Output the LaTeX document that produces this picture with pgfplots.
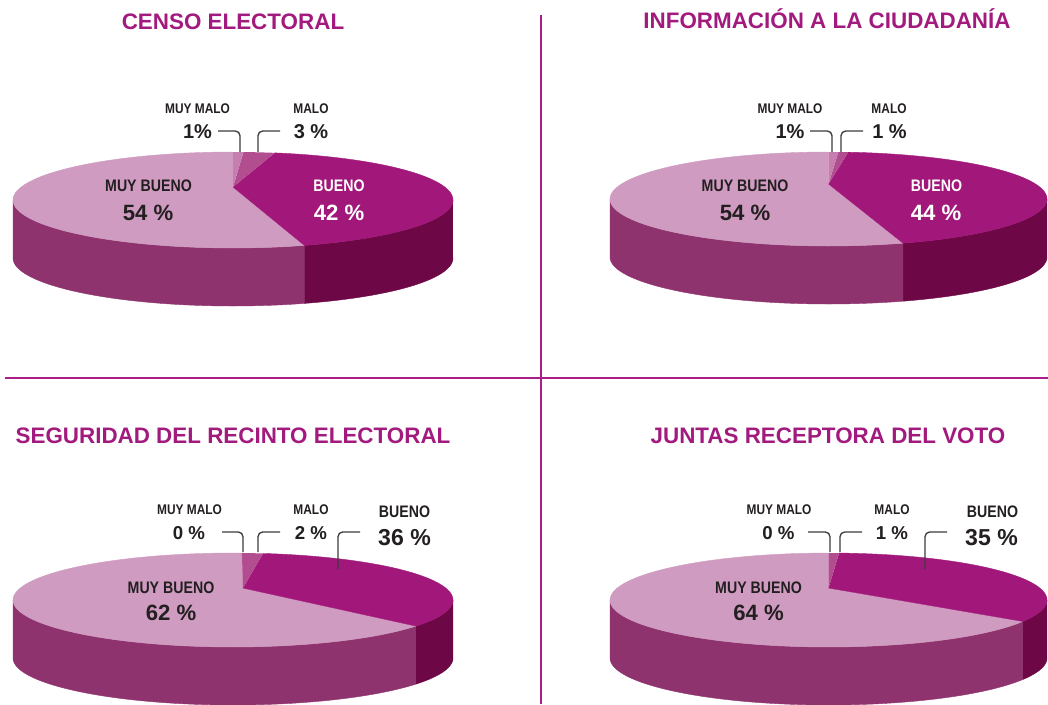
\documentclass[border=0pt]{standalone}
\usepackage{pgfplots}
\usepackage{pgfplotstable}
\pgfplotsset{compat=1.18}
\usepackage{fontspec}
\setmainfont{Liberation Sans}
\newfontfamily\condf[FakeStretch=0.85]{Liberation Sans}

\definecolor{mbtop}{RGB}{207,155,192}
\definecolor{btop}{RGB}{161,24,122}
\definecolor{mtop}{RGB}{178,77,144}
\definecolor{mmtop}{RGB}{198,125,175}
\definecolor{mbside}{RGB}{143,51,110}
\definecolor{bside}{RGB}{110,7,69}
\definecolor{ttl}{RGB}{162,26,125}
\definecolor{divc}{RGB}{172,30,135}
\definecolor{txt}{RGB}{35,31,32}
\definecolor{lead}{RGB}{60,60,60}

% ---- data (percent) ----
\pgfplotstableread{
cat val
MuyMalo 1
Malo 3
Bueno 42
MuyBueno 54
}\tabA
\pgfplotstableread{
cat val
MuyMalo 1
Malo 1
Bueno 44
MuyBueno 54
}\tabB
\pgfplotstableread{
cat val
MuyMalo 0
Malo 2
Bueno 36
MuyBueno 62
}\tabC
\pgfplotstableread{
cat val
MuyMalo 0
Malo 1
Bueno 35
MuyBueno 64
}\tabD

\tikzset{
  declare function={
    gq(\argx,\argy)=sqrt(1-\argx*\argx-\argy*\argy);
    ss(\argr,\argt,\argx,\argy)=\argr*(\argx*sin(\argt)+\argy*cos(\argt));
    PX(\argr,\argt,\argx,\argy)=(\argx+gq(\argx,\argy)*\argr*sin(\argt)+ss(\argr,\argt,\argx,\argy)*\argx/(1+gq(\argx,\argy)))/(1+ss(\argr,\argt,\argx,\argy));
    PY(\argr,\argt,\argx,\argy)=(\argy+gq(\argx,\argy)*\argr*cos(\argt)+ss(\argr,\argt,\argx,\argy)*\argy/(1+gq(\argx,\argy)))/(1+ss(\argr,\argt,\argx,\argy));
    WT(\args,\arga,\argb)=\argb-(\argb-\arga)*(max(1-\args,0)+max(\args-2,0));
    WD(\args)=min(max(\args-1,0),1);
    ST(\args,\arga,\argb)=\arga+(\argb-\arga)*min(\args,1);
    SR(\args)=min(1,2-\args);
  }
}

\newcommand\V[2]{\csname#1#2\endcsname}

\newcommand\computepie[4]{%
  \pgfplotstablegetelem{0}{val}\of#2\pgfmathsetmacro\tmpA{\pgfplotsretval*3.6}%
  \pgfplotstablegetelem{1}{val}\of#2\pgfmathsetmacro\tmpB{\tmpA+\pgfplotsretval*3.6}%
  \pgfplotstablegetelem{2}{val}\of#2\pgfmathsetmacro\tmpC{\tmpB+\pgfplotsretval*3.6}%
  \pgfplotstablegetelem{3}{val}\of#2\pgfmathsetmacro\tmpD{\tmpC+\pgfplotsretval*3.6}%
  \pgfmathsetmacro\tmpG{sqrt(1-(#3)*(#3)-(#4)*(#4))}%
  \pgfmathsetmacro\tmpK{1/(1+\tmpG)}%
  \pgfmathsetmacro\tmpS{atan2((\tmpG-(#3)+\tmpK*(#3)*(#3))/(1-(#3)),(\tmpK*(#3)*(#4)-(#4))/(1-(#3)))}%
  \pgfmathsetmacro\tmpE{360+atan2((-\tmpG-(#3)-\tmpK*(#3)*(#3))/(1+(#3)),(-(#4)-\tmpK*(#3)*(#4))/(1+(#3)))}%
  \expandafter\xdef\csname #1a\endcsname{\tmpA}%
  \expandafter\xdef\csname #1b\endcsname{\tmpB}%
  \expandafter\xdef\csname #1c\endcsname{\tmpC}%
  \expandafter\xdef\csname #1d\endcsname{\tmpD}%
  \expandafter\xdef\csname #1s\endcsname{\tmpS}%
  \expandafter\xdef\csname #1e\endcsname{\tmpE}%
  \expandafter\xdef\csname #1vx\endcsname{#3}%
  \expandafter\xdef\csname #1vy\endcsname{#4}%
}

\computepie{pA}{\tabA}{0}{0.271}
\computepie{pB}{\tabB}{0}{0.32}
\computepie{pC}{\tabC}{0.045}{0.255}
\computepie{pD}{\tabD}{0}{0.255}

% #1 prefix, #2 cx, #3 cy, #4 rx, #5 ry, #6 depth
\newcommand\drawpie[6]{%
  \addplot[fill=bside, draw=bside, line width=0.3pt, domain=0:3, samples=301]
    ({#2+#4*PX(1,WT(x,\V{#1}{s},\V{#1}{c}),\V{#1}{vx},\V{#1}{vy})},
     {#3-#5*PY(1,WT(x,\V{#1}{s},\V{#1}{c}),\V{#1}{vx},\V{#1}{vy})+#6*WD(x)});
  \addplot[fill=mbside, draw=mbside, line width=0.3pt, domain=0:3, samples=301]
    ({#2+#4*PX(1,WT(x,\V{#1}{c},\V{#1}{e}),\V{#1}{vx},\V{#1}{vy})},
     {#3-#5*PY(1,WT(x,\V{#1}{c},\V{#1}{e}),\V{#1}{vx},\V{#1}{vy})+#6*WD(x)});
  \addplot[fill=mbtop, draw=mbtop, line width=0.3pt, domain=0:2, samples=161]
    ({#2+#4*PX(SR(x),ST(x,\V{#1}{c},\V{#1}{d}),\V{#1}{vx},\V{#1}{vy})},
     {#3-#5*PY(SR(x),ST(x,\V{#1}{c},\V{#1}{d}),\V{#1}{vx},\V{#1}{vy})});
  \addplot[fill=btop, draw=btop, line width=0.3pt, domain=0:2, samples=161]
    ({#2+#4*PX(SR(x),ST(x,\V{#1}{b},\V{#1}{c}),\V{#1}{vx},\V{#1}{vy})},
     {#3-#5*PY(SR(x),ST(x,\V{#1}{b},\V{#1}{c}),\V{#1}{vx},\V{#1}{vy})});
  \addplot[fill=mtop, draw=none, domain=0:2, samples=121]
    ({#2+#4*PX(SR(x),ST(x,\V{#1}{a},\V{#1}{b}),\V{#1}{vx},\V{#1}{vy})},
     {#3-#5*PY(SR(x),ST(x,\V{#1}{a},\V{#1}{b}),\V{#1}{vx},\V{#1}{vy})});
  \addplot[fill=mmtop, draw=none, domain=0:2, samples=121]
    ({#2+#4*PX(SR(x),ST(x,0,\V{#1}{a}),\V{#1}{vx},\V{#1}{vy})},
     {#3-#5*PY(SR(x),ST(x,0,\V{#1}{a}),\V{#1}{vx},\V{#1}{vy})});
}

\begin{document}
\begin{tikzpicture}[
  ttlst/.style={font=\bfseries\fontsize{16.8}{18}\selectfont, text=ttl, anchor=base, inner sep=0pt},
  sname/.style={font=\condf\bfseries\fontsize{10.5}{12}\selectfont, text=txt, anchor=base, inner sep=0pt},
  snum/.style={font=\bfseries\fontsize{15}{16}\selectfont, text=txt, anchor=base, inner sep=0pt},
  snumb/.style={font=\bfseries\fontsize{14}{16}\selectfont, text=txt, anchor=base, inner sep=0pt},
  lname/.style={font=\condf\bfseries\fontsize{12.5}{14}\selectfont, text=txt, anchor=base, inner sep=0pt},
  lnum/.style={font=\bfseries\fontsize{16.6}{18}\selectfont, text=txt, anchor=base, inner sep=0pt},
  bnum/.style={font=\bfseries\fontsize{17.3}{19}\selectfont, text=txt, anchor=base, inner sep=0pt},
  leader/.style={draw=lead, line width=1pt, rounded corners=3.5pt},
]
\begin{axis}[
  at={(0,0)}, anchor=south west,
  scale only axis, width=786pt, height=528pt,
  xmin=0, xmax=1048, ymin=0, ymax=704, y dir=reverse,
  hide axis, clip=true,
]
\drawpie{pA}{233}{200}{220}{48}{58}
\drawpie{pB}{828.5}{199}{218.5}{47}{58}
\drawpie{pC}{233}{600}{220}{47}{58}
\drawpie{pD}{828.5}{600}{218.5}{47}{58}

% dividers
\draw[divc, line width=1.5pt] (axis cs:541,15) -- (axis cs:541,704);
\draw[divc, line width=1.5pt] (axis cs:5,378) -- (axis cs:1048,378);

% titles
\node[ttlst] at (axis cs:233,29) {CENSO ELECTORAL};
\node[ttlst] at (axis cs:827,28.5) {INFORMACIÓN A LA CIUDADANÍA};
\node[ttlst] at (axis cs:233,443) {SEGURIDAD DEL RECINTO ELECTORAL};
\node[ttlst] at (axis cs:828,443) {JUNTAS RECEPTORA DEL VOTO};

% chart A labels
\draw[leader] (axis cs:218,131) -| (axis cs:240,152);
\draw[leader] (axis cs:280,131) -| (axis cs:258,152);
\node[sname] at (axis cs:197.5,113) {MUY MALO};
\node[snum] at (axis cs:197.5,138) {1\%};
\node[sname] at (axis cs:311,113) {MALO};
\node[snum] at (axis cs:311,138) {3 \%};
\node[lname] at (axis cs:148.5,191) {MUY BUENO};
\node[lnum] at (axis cs:148,220) {54 \%};
\node[lname, text=white] at (axis cs:339,191) {BUENO};
\node[lnum, text=white] at (axis cs:339,220) {42 \%};

% chart B labels
\draw[leader] (axis cs:810,131) -| (axis cs:832,152);
\draw[leader] (axis cs:863,131) -| (axis cs:841,152);
\node[sname] at (axis cs:790,113) {MUY MALO};
\node[snum] at (axis cs:790,138) {1\%};
\node[sname] at (axis cs:889,113) {MALO};
\node[snum] at (axis cs:889.5,138) {1 \%};
\node[lname] at (axis cs:745,191) {MUY BUENO};
\node[lnum] at (axis cs:745,220) {54 \%};
\node[lname, text=white] at (axis cs:936.5,191) {BUENO};
\node[lnum, text=white] at (axis cs:936,220) {44 \%};

% chart C labels
\draw[leader] (axis cs:222,532) -| (axis cs:243,552);
\draw[leader] (axis cs:280,532) -| (axis cs:258,552);
\draw[leader] (axis cs:360,532) -| (axis cs:338,569);
\node[sname] at (axis cs:189.5,514) {MUY MALO};
\node[snumb] at (axis cs:189,539) {0 \%};
\node[sname] at (axis cs:311,514) {MALO};
\node[snumb] at (axis cs:311,539) {2 \%};
\node[lname] at (axis cs:404.5,517) {BUENO};
\node[bnum] at (axis cs:404.5,545) {36 \%};
\node[lname] at (axis cs:171,593) {MUY BUENO};
\node[lnum] at (axis cs:171,620) {62 \%};

% chart D labels
\draw[leader] (axis cs:808,532) -| (axis cs:830,552);
\draw[leader] (axis cs:862,532) -| (axis cs:840,552);
\draw[leader] (axis cs:947,532) -| (axis cs:925,569);
\node[sname] at (axis cs:779,514) {MUY MALO};
\node[snumb] at (axis cs:778.5,539) {0 \%};
\node[sname] at (axis cs:892,514) {MALO};
\node[snumb] at (axis cs:892,539) {1 \%};
\node[lname] at (axis cs:992.5,517) {BUENO};
\node[bnum] at (axis cs:991.5,545) {35 \%};
\node[lname] at (axis cs:758.5,593) {MUY BUENO};
\node[lnum] at (axis cs:758.5,620) {64 \%};
\end{axis}
\pgfresetboundingbox
\path (current axis.south west) rectangle (current axis.north east);
\end{tikzpicture}
\end{document}
